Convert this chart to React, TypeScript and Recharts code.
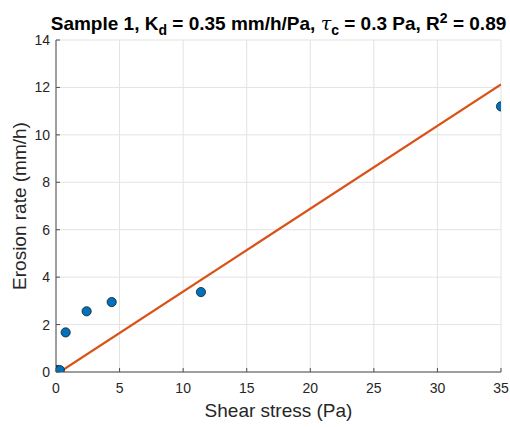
import { ComposedChart, Scatter, Line, XAxis, YAxis, CartesianGrid, Label } from 'recharts';

const shearStress = [0.08, 0.3, 0.76, 2.41, 4.38, 11.4, 35];
const erosionRate = [0.08, 0.08, 1.67, 2.56, 2.95, 3.37, 11.2];

// Fitted excess-shear line (two end points)
const fitStress = [0.3, 35];
const fitRate = [0, 12.13];

const xTicks = [0, 5, 10, 15, 20, 25, 30, 35];
const yTicks = [0, 2, 4, 6, 8, 10, 12, 14];

const FONT = '"Liberation Sans", Arial, Helvetica, sans-serif';
const INK = '#262626';
const AXIS = '#4d4d4d';
const TICK_LEN = 4;

const points = shearStress.map((x, i) => ({ x, y: erosionRate[i] }));
const fit = fitStress.map((x, i) => ({ x, y: fitRate[i] }));

const Dot = (props: any) => {
  const { cx, cy } = props;
  if (cx == null || cy == null) return null;
  return <circle cx={cx} cy={cy} r={4.6} fill="#0072BD" stroke="#1a1a1a" strokeWidth={0.8} />;
};

// MATLAB-style inward ticks, drawn by hand since recharts only points them out
const BottomTick = (props: any) => {
  const { x, y, payload } = props;
  const axisY = y - 11;
  return (
    <g>
      <line x1={x} x2={x} y1={axisY} y2={axisY - TICK_LEN} stroke={AXIS} />
      <text x={x} y={y} dy="0.72em" textAnchor="middle" fill={INK} fontSize={14} fontFamily={FONT}>
        {payload.value}
      </text>
    </g>
  );
};

const LeftTick = (props: any) => {
  const { x, y, payload } = props;
  const axisX = x + 6;
  return (
    <g>
      <line x1={axisX} x2={axisX + TICK_LEN} y1={y} y2={y} stroke={AXIS} />
      <text x={x} y={y} dy="0.36em" textAnchor="end" fill={INK} fontSize={14} fontFamily={FONT}>
        {payload.value}
      </text>
    </g>
  );
};

const TopTick = (props: any) => {
  const { x, y } = props;
  return <line x1={x} x2={x} y1={y} y2={y + TICK_LEN} stroke={AXIS} />;
};

const RightTick = (props: any) => {
  const { x, y } = props;
  return <line x1={x} x2={x - TICK_LEN} y1={y} y2={y} stroke={AXIS} />;
};

export default function App() {
  return (
    <div style={{ position: 'absolute', left: 0, top: 0, width: 510, height: 427, background: '#fff', fontFamily: FONT }}>
      {/* Title (HTML so sub/superscripts are easy) */}
      <div
        style={{
          position: 'absolute',
          left: 0,
          top: 7,
          width: 557,
          textAlign: 'center',
          fontSize: 19,
          fontWeight: 'bold',
          color: '#000',
          whiteSpace: 'nowrap',
          lineHeight: '22px',
        }}
      >
        Sample 1, K<sub style={{ fontSize: 14, verticalAlign: -5 }}>d</sub> = 0.35 mm/h/Pa,{' '}
        <span style={{ fontStyle: 'italic', fontFamily: '"DejaVu Serif", serif', fontWeight: 'normal' }}>τ</span>
        <sub style={{ fontSize: 14, verticalAlign: -5 }}>c</sub> = 0.3 Pa, R
        <sup style={{ fontSize: 14, verticalAlign: 7 }}>2</sup> = 0.89
      </div>

      <ComposedChart width={510} height={427} margin={{ top: 40, right: 9, bottom: 0, left: 0 }}>
        <CartesianGrid stroke="#e3e3e3" strokeWidth={1} />
        <XAxis
          dataKey="x"
          type="number"
          domain={[0, 35]}
          ticks={xTicks}
          height={55}
          tick={<BottomTick />}
          tickLine={false}
          tickSize={0}
          tickMargin={11}
          stroke={AXIS}
          allowDataOverflow
        >
          <Label
            content={() => (
              <text x={278.5} y={416.5} textAnchor="middle" fill={INK} fontSize={19} fontFamily={FONT}>
                Shear stress (Pa)
              </text>
            )}
          />
        </XAxis>
        <XAxis
          xAxisId="top"
          orientation="top"
          type="number"
          domain={[0, 35]}
          ticks={xTicks}
          height={0}
          tick={<TopTick />}
          tickLine={false}
          tickSize={0}
          tickMargin={0}
          stroke={AXIS}
        />
        <YAxis
          type="number"
          domain={[0, 14]}
          ticks={yTicks}
          width={56}
          tick={<LeftTick />}
          tickLine={false}
          tickSize={0}
          tickMargin={6}
          stroke={AXIS}
          allowDataOverflow
        >
          <Label
            content={() => (
              <text
                x={26}
                y={206}
                transform="rotate(-90 26 206)"
                textAnchor="middle"
                fill={INK}
                fontSize={19}
                fontFamily={FONT}
              >
                Erosion rate (mm/h)
              </text>
            )}
          />
        </YAxis>
        <YAxis
          yAxisId="right"
          orientation="right"
          type="number"
          domain={[0, 14]}
          ticks={yTicks}
          width={0}
          tick={<RightTick />}
          tickLine={false}
          tickSize={0}
          tickMargin={0}
          stroke={AXIS}
        />
        <Scatter data={points} dataKey="y" shape={<Dot />} isAnimationActive={false} />
        <Line
          data={fit}
          dataKey="y"
          type="linear"
          stroke="#D95319"
          strokeWidth={2.2}
          dot={false}
          activeDot={false}
          isAnimationActive={false}
        />
      </ComposedChart>
    </div>
  );
}
